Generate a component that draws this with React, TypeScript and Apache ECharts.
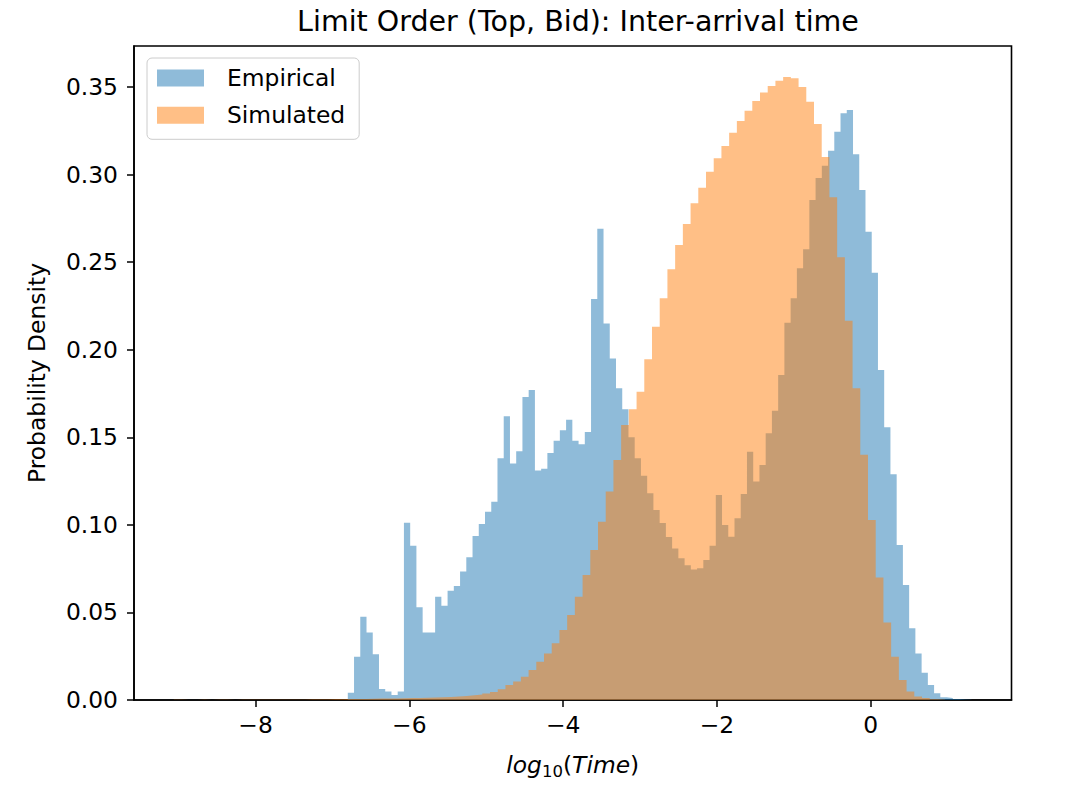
import React, { useEffect, useRef } from 'react';
import * as echarts from 'echarts';

const FONT = '"DejaVu Sans", sans-serif';
const TITLE = 'Limit Order (Top, Bid): Inter-arrival time';
const Y_NAME = 'Probability Density';
const SERIES_NAMES = ['Empirical', 'Simulated'];
const X_TICKS = [-8, -6, -4, -2, 0];
const Y_TICKS = [0, 0.05, 0.1, 0.15, 0.2, 0.25, 0.3, 0.35];
const X_RANGE = [-9.58, 1.83];
const Y_RANGE = [0, 0.3734];

// Histogram of the empirical data: 100 equal bins
const empiricalBinStart = -6.8;
const empiricalBinWidth = 0.0811;
const empiricalDensity = [
  0.0042, 0.0247, 0.0476, 0.0386, 0.0261, 0.0063, 0.0048, 0.0029, 0.0048, 0.1012,
  0.0881, 0.0529, 0.0386, 0.0386, 0.0590, 0.0538, 0.0624, 0.0651, 0.0733, 0.0815,
  0.0936, 0.1005, 0.1075, 0.1132, 0.1380, 0.1620, 0.1350, 0.1420, 0.1730, 0.1770,
  0.1310, 0.1320, 0.1410, 0.1480, 0.1540, 0.1600, 0.1480, 0.1460, 0.1530, 0.2290,
  0.2690, 0.2150, 0.1950, 0.1780, 0.1660, 0.1500, 0.1380, 0.1280, 0.1180, 0.1085,
  0.1010, 0.0930, 0.0865, 0.0810, 0.0770, 0.0745, 0.0752, 0.0800, 0.0880, 0.1170,
  0.0999, 0.0932, 0.1037, 0.1176, 0.1418, 0.1247, 0.1342, 0.1523, 0.1652, 0.1856,
  0.2154, 0.2294, 0.2465, 0.2573, 0.2855, 0.2980, 0.3050, 0.3136, 0.3245, 0.3350,
  0.3369, 0.3116, 0.2912, 0.2674, 0.2440, 0.1884, 0.1557, 0.1289, 0.0885, 0.0657,
  0.0410, 0.0266, 0.0156, 0.0086, 0.0038, 0.0015, 0.0012, 0.0005, 0.0003, 0.0002,
];

// Histogram of the simulated data: 100 equal bins
const simulatedBinStart = -9.063;
const simulatedBinWidth = 0.1003;
const simulatedDensity = [
  0.0001, 0, 0, 0.0001, 0, 0.0001, 0.0001, 0, 0.0001, 0.0001,
  0.0001, 0.0001, 0.0002, 0.0001, 0.0002, 0.0002, 0.0002, 0.0003, 0.0003, 0.0003,
  0.0004, 0.0004, 0.0005, 0.0005, 0.0006, 0.0007, 0.0008, 0.0008, 0.0009, 0.0010,
  0.0011, 0.0012, 0.0013, 0.0014, 0.0015, 0.0017, 0.0020, 0.0023, 0.0027, 0.0031,
  0.0037, 0.0046, 0.0061, 0.0086, 0.0105, 0.0133, 0.0171, 0.0219, 0.0266, 0.0324,
  0.0400, 0.0485, 0.0590, 0.0714, 0.0856, 0.1018, 0.1190, 0.1370, 0.1570, 0.1660,
  0.1760, 0.1945, 0.2131, 0.2294, 0.2459, 0.2598, 0.2718, 0.2836, 0.2925, 0.3016,
  0.3093, 0.3163, 0.3239, 0.3306, 0.3365, 0.3420, 0.3468, 0.3506, 0.3536, 0.3557,
  0.3550, 0.3500, 0.3416, 0.3289, 0.3100, 0.2870, 0.2528, 0.2166, 0.1780, 0.1400,
  0.1028, 0.0700, 0.0442, 0.0247, 0.0114, 0.0048, 0.0020, 0.0012, 0.0004, 0.0001,
];

const BLUE = 'rgba(31,119,180,0.5)';
const ORANGE = 'rgba(255,127,14,0.5)';

function histSteps(start: number, width: number, values: number[]) {
  const pts = values.map((v, i) => [start + i * width, v]);
  pts.push([start + values.length * width, values[values.length - 1]]);
  return pts;
}

function fmtX(v: number) {
  return v < 0 ? '\u2212' + Math.abs(v) : String(v);
}

export default function App() {
  const ref = useRef<HTMLDivElement>(null);
  useEffect(() => {
    if (!ref.current) return;
    const chart = echarts.init(ref.current, undefined, { renderer: 'svg' });
    const axisColor = '#000';
    const option: any = {
      animation: false,
      textStyle: { fontFamily: FONT },
      title: {
        text: TITLE,
        left: 573,
        top: 2,
        textAlign: 'center',
        textStyle: { fontSize: 28.5, fontWeight: 'normal', color: '#000', fontFamily: FONT },
      },
      legend: {
        orient: 'vertical',
        left: 147,
        top: 58,
        padding: [8, 14, 12, 10],
        itemGap: 13.3,
        itemWidth: 47,
        itemHeight: 17,
        backgroundColor: 'rgba(255,255,255,0.8)',
        borderColor: '#cccccc',
        borderWidth: 1,
        borderRadius: 5,
        itemStyle: { borderWidth: 0 },
        textStyle: { fontSize: 23.4, color: '#000', lineHeight: 24, padding: [0, 0, 0, 18], fontFamily: FONT },
        data: [
          { name: SERIES_NAMES[0], icon: 'rect', itemStyle: { color: BLUE, borderWidth: 0 } },
          { name: SERIES_NAMES[1], icon: 'rect', itemStyle: { color: ORANGE, borderWidth: 0 } },
        ],
      },
      grid: {
        left: 134,
        right: 64.5,
        top: 46,
        bottom: 100,
        show: true,
        borderColor: axisColor,
        borderWidth: 1.6,
        backgroundColor: 'transparent',
        containLabel: false,
        outerBoundsMode: 'none',
      },
      xAxis: {
        type: 'value',
        min: X_RANGE[0],
        max: X_RANGE[1],
        splitLine: { show: false },
        axisLine: { show: true, onZero: false, lineStyle: { color: axisColor, width: 1.6 } },
        axisTick: { show: true, length: 7, lineStyle: { color: axisColor, width: 1.5 }, customValues: X_TICKS },
        axisLabel: { customValues: X_TICKS, formatter: fmtX, fontSize: 23.4, color: '#000', margin: 13, fontFamily: FONT },
        name: '{i|log}{s|10}{u|(}{i|Time}{u|)}',
        nameLocation: 'middle',
        nameGap: 50,
        nameTextStyle: {
          fontSize: 23.4,
          color: '#000',
          fontFamily: FONT,
          rich: {
            i: { fontStyle: 'italic', fontSize: 23.4, lineHeight: 30, verticalAlign: 'middle', color: '#000', fontFamily: FONT },
            s: { fontSize: 16.5, lineHeight: 16, verticalAlign: 'bottom', color: '#000', fontFamily: FONT },
            u: { fontSize: 23.4, lineHeight: 30, verticalAlign: 'middle', color: '#000', fontFamily: FONT },
          },
        },
      },
      yAxis: {
        type: 'value',
        min: Y_RANGE[0],
        max: Y_RANGE[1],
        splitLine: { show: false },
        axisLine: { show: true, onZero: false, lineStyle: { color: axisColor, width: 1.6 } },
        axisTick: { show: true, length: 7, lineStyle: { color: axisColor, width: 1.5 }, customValues: Y_TICKS },
        axisLabel: {
          customValues: Y_TICKS,
          formatter: (v: number) => v.toFixed(2),
          fontSize: 23.4,
          color: '#000',
          margin: 16,
          fontFamily: FONT,
        },
        name: Y_NAME,
        nameLocation: 'middle',
        nameGap: 86,
        nameRotate: 90,
        nameTextStyle: { fontSize: 23.4, color: '#000', fontFamily: FONT },
      },
      series: [
        {
          type: 'line',
          name: SERIES_NAMES[0],
          data: histSteps(empiricalBinStart, empiricalBinWidth, empiricalDensity),
          step: 'end',
          symbol: 'none',
          showSymbol: false,
          silent: true,
          lineStyle: { width: 0, opacity: 0 },
          itemStyle: { color: BLUE },
          areaStyle: { color: BLUE, opacity: 1 },
          z: 2,
        },
        {
          type: 'line',
          name: SERIES_NAMES[1],
          data: histSteps(simulatedBinStart, simulatedBinWidth, simulatedDensity),
          step: 'end',
          symbol: 'none',
          showSymbol: false,
          silent: true,
          lineStyle: { width: 0, opacity: 0 },
          itemStyle: { color: ORANGE },
          areaStyle: { color: ORANGE, opacity: 1 },
          z: 3,
        },
      ],
    };
    chart.setOption(option);
    return () => chart.dispose();
  }, []);
  return (
    <div
      ref={ref}
      style={{ position: 'absolute', left: 0, top: 0, width: 1076, height: 800, background: '#fff' }}
    />
  );
}
